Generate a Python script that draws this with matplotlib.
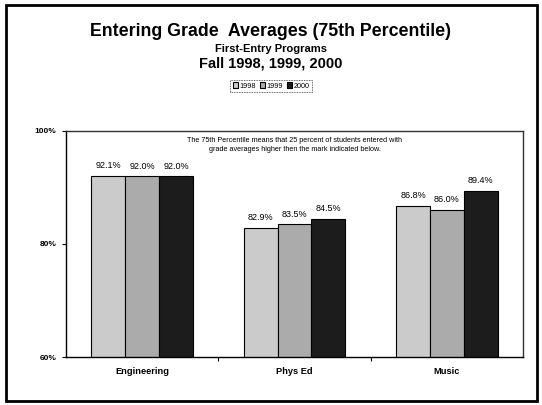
import matplotlib
matplotlib.use("Agg")
import matplotlib.pyplot as plt
import numpy as np
from matplotlib.patches import Rectangle

plt.rcParams["font.family"] = ["Liberation Sans", "DejaVu Sans"]

# --- data ---
programs = ["Engineering", "Phys Ed", "Music"]
years = ["1998", "1999", "2000"]
avg_1998 = [92.1, 82.9, 86.8]
avg_1999 = [92.0, 83.5, 86.0]
avg_2000 = [92.0, 84.5, 89.4]
y_ticks = [60, 80, 100]
y_tick_labels = ["60%", "80%", "100%"]

series = [avg_1998, avg_1999, avg_2000]
colors = ["#cbcbcb", "#ababab", "#1c1c1c"]

W, H = 542, 405
fig = plt.figure(figsize=(W / 100, H / 100), dpi=100)

# outer frame
fig.patches.append(Rectangle((6 / W, 4 / H), 531 / W, 396 / H, transform=fig.transFigure,
                             fill=False, edgecolor="black", linewidth=2))

# plot area: x 66..523, y 131..357 (pixels from top)
ax = fig.add_axes([66 / W, 1 - 357 / H, (523 - 66) / W, (357 - 131) / H])

x = np.arange(len(programs))
bw = 0.222
for i, (vals, c) in enumerate(zip(series, colors)):
    pos = x + (i - 1) * bw
    ax.bar(pos, vals, width=bw, bottom=0, color=c, edgecolor="black",
           linewidth=0.8, label=years[i], zorder=2)
    for p, v in zip(pos, vals):
        ax.text(p, v + 1.0, f"{v:.1f}%", ha="center", va="bottom", fontsize=6.5)

ax.set_xlim(-0.5, 2.5)
ax.set_ylim(60, 100)
ax.set_yticks(y_ticks)
ax.set_yticklabels(y_tick_labels, fontsize=6, fontweight="bold")
ax.set_xticks(x)
ax.set_xticklabels(programs, fontsize=6.7, fontweight="bold")
ax.tick_params(axis="x", length=0, pad=7)
ax.tick_params(axis="y", length=3, width=0.8, pad=4)
ax.set_xticks([0.5, 1.5], minor=True)
ax.tick_params(axis="x", which="minor", length=3, width=0.8, direction="out")

for s in ["left", "bottom"]:
    ax.spines[s].set_linewidth(1.0)
for s in ["top", "right"]:
    ax.spines[s].set_linestyle((0, (1, 1)))
    ax.spines[s].set_linewidth(1.0)
    ax.spines[s].set_color("#333333")

ax.text(0.5, 0.975, "The 75th Percentile means that 25 percent of students entered with\n"
        "grade averages higher then the mark indicated below.",
        transform=ax.transAxes, ha="center", va="top", fontsize=5.2, linespacing=1.4)

# titles
fig.text(0.5, 1 - 32 / H, "Entering Grade  Averages (75th Percentile)", ha="center", va="center",
         fontsize=12.8, fontweight="bold")
fig.text(0.5, 1 - 49 / H, "First-Entry Programs", ha="center", va="center",
         fontsize=8, fontweight="bold")
fig.text(0.5, 1 - 64 / H, "Fall 1998, 1999, 2000", ha="center", va="center",
         fontsize=10.5, fontweight="bold")

leg = fig.legend(loc="center", bbox_to_anchor=(0.5, 1 - 86 / H), ncol=3, fontsize=5.2,
                 frameon=True, fancybox=False, handlelength=0.7, handleheight=0.7,
                 handletextpad=0.25, columnspacing=0.5, borderpad=0.35)
leg.get_frame().set_edgecolor("black")
leg.get_frame().set_linewidth(0.6)
leg.get_frame().set_linestyle((0, (1, 1)))

fig.savefig("out.png", dpi=100)
